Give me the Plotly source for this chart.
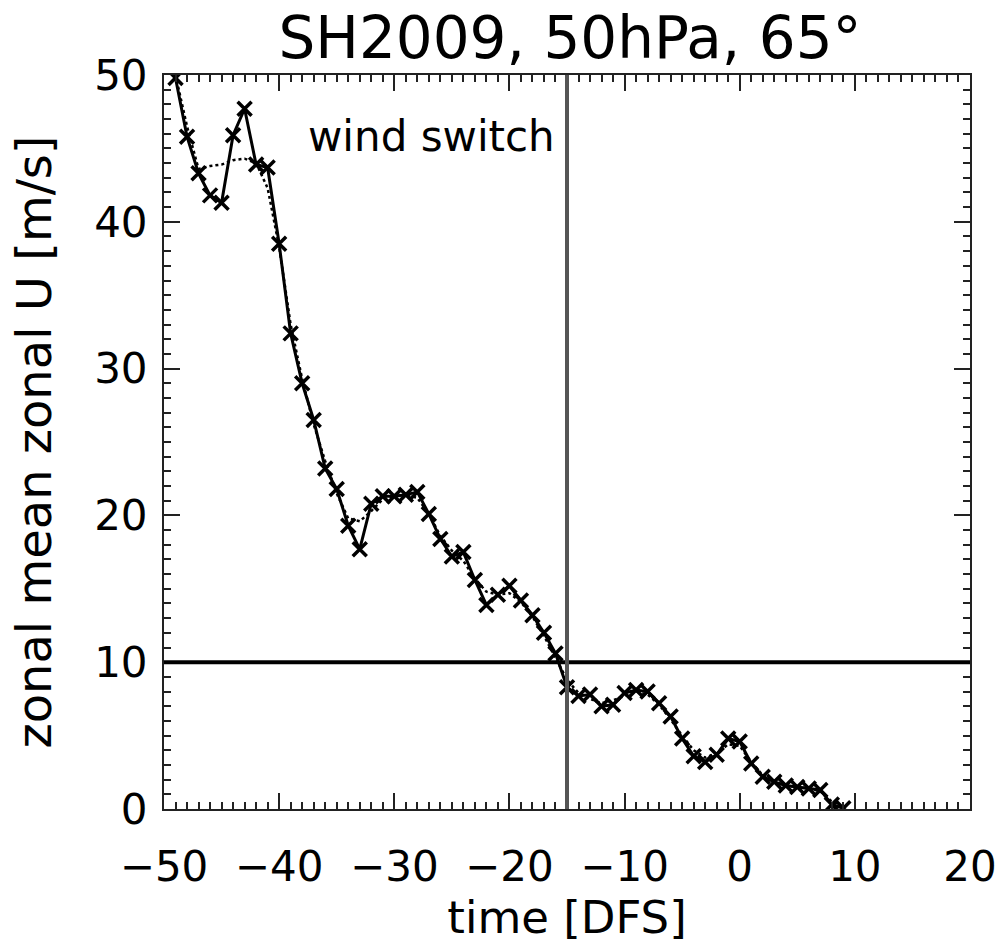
import plotly.graph_objects as go

days = list(range(-49, 10))
u_daily = [49.8, 45.8, 43.3, 41.8, 41.3, 45.9, 47.7, 43.9, 43.7, 38.5,
           32.4, 29.0, 26.5, 23.2, 21.8, 19.3, 17.7, 20.8, 21.3, 21.3,
           21.4, 21.6, 20.1, 18.4, 17.2, 17.5, 15.6, 13.9, 14.6, 15.2,
           14.2, 13.2, 12.0, 10.6, 8.3, 7.7, 7.8, 7.0, 7.1, 7.9,
           8.1, 8.0, 7.2, 6.3, 4.8, 3.6, 3.2, 3.7, 4.8, 4.6,
           3.1, 2.2, 1.85, 1.6, 1.5, 1.4, 1.3, 0.3, 0.05]
u_smooth = [50.0, 46.5, 43.6, 43.8, 43.9, 44.2, 44.3, 44.0, 42.3, 38.3,
            33.0, 29.3, 26.2, 23.7, 21.5, 19.8, 19.6, 20.3, 21.1, 21.3,
            21.4, 21.2, 20.1, 18.6, 17.6, 16.9, 15.7, 14.8, 14.6, 14.7,
            14.1, 13.1, 11.8, 10.3, 8.8, 7.9, 7.5, 7.2, 7.4, 7.7,
            8.0, 7.8, 7.1, 6.1, 5.0, 4.0, 3.5, 3.8, 4.4, 4.3,
            3.2, 2.3, 1.8, 1.6, 1.5, 1.4, 1.2, 0.5, 0.1]

switch_day = -15
threshold = 10
x_range = [-50, 20]
y_range = [0, 50]
x_ticks = [-50, -40, -30, -20, -10, 0, 10, 20]
y_ticks = [0, 10, 20, 30, 40, 50]

FONT = "DejaVu Sans"

fig = go.Figure()

fig.add_trace(go.Scatter(
    x=days, y=u_smooth, mode="lines",
    line=dict(color="black", width=2.5, dash="dot"),
    showlegend=False, cliponaxis=True,
))
fig.add_trace(go.Scatter(
    x=days, y=u_daily, mode="lines+markers",
    line=dict(color="black", width=3),
    marker=dict(symbol="x-thin", size=14, line=dict(color="black", width=3.5)),
    showlegend=False, cliponaxis=True,
))

# horizontal threshold line
fig.add_shape(type="line", xref="x", yref="y",
              x0=x_range[0], x1=x_range[1], y0=threshold, y1=threshold,
              line=dict(color="black", width=4))
# vertical wind-switch line
fig.add_shape(type="line", xref="x", yref="y",
              x0=switch_day, x1=switch_day, y0=y_range[0], y1=y_range[1],
              line=dict(color="#555555", width=4))

fig.add_annotation(x=switch_day, y=45.8, xref="x", yref="y",
                   text="wind switch", showarrow=False,
                   xanchor="right", yanchor="middle", xshift=-10,
                   font=dict(family=FONT, size=42, color="black"))

axis_common = dict(
    showgrid=False, zeroline=False, automargin=False,
    showline=True, linecolor="#222222", linewidth=2, mirror="allticks",
    ticks="inside", ticklen=16, tickwidth=2, tickcolor="#222222",
    tickfont=dict(family=FONT, size=42, color="black"),
)

fig.update_xaxes(
    range=x_range, tickvals=x_ticks, ticklabelstandoff=20,
    minor=dict(ticks="inside", dtick=1, ticklen=7, tickwidth=1.5, tickcolor="#222222"),
    title=dict(text="time [DFS]", font=dict(family=FONT, size=45, color="black"), standoff=12),
    **axis_common,
)
fig.update_yaxes(
    range=y_range, tickvals=y_ticks, ticklabelstandoff=6,
    minor=dict(ticks="inside", dtick=1, ticklen=7, tickwidth=1.5, tickcolor="#222222"),
    title=dict(text="zonal mean zonal U [m/s]", font=dict(family=FONT, size=48, color="black"), standoff=27),
    **axis_common,
)

fig.update_layout(
    width=1000, height=944,
    margin=dict(l=164, r=30, t=75, b=135),
    paper_bgcolor="white", plot_bgcolor="white",
    title=dict(text="SH2009, 50hPa, 65°", x=0.57, xanchor="center",
               y=0.96, yanchor="middle", yref="container",
               font=dict(family=FONT, size=58, color="black")),
)

fig.write_html("out.html")
